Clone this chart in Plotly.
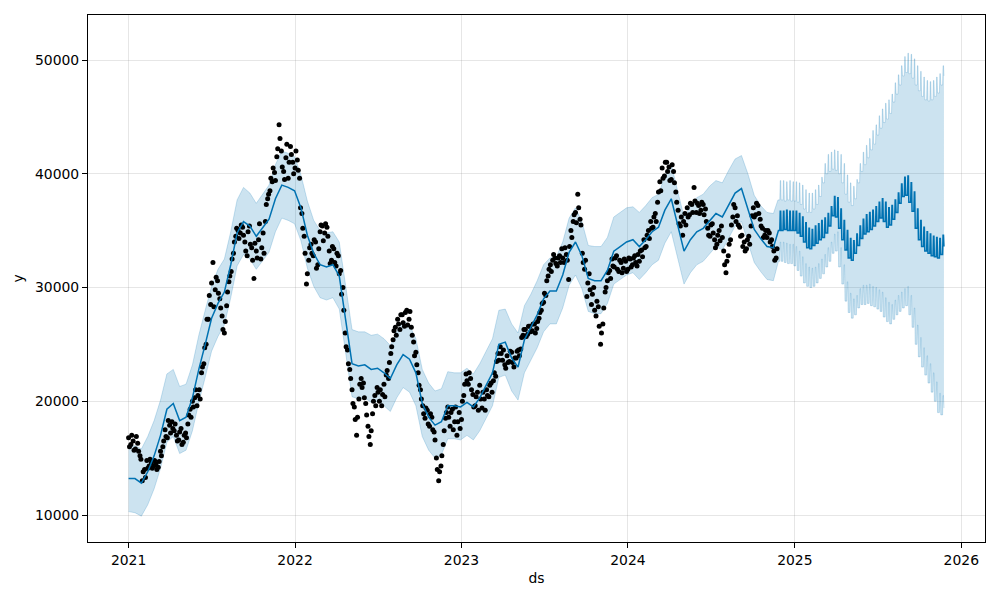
import pandas as pd
import plotly.graph_objects as go

# ---------------- data (values in thousands) ----------------
# observed points, two interleaved samplings (every 5 days, offset by 2 days)
obs_start = "2021-01-01"
obs_start_b = "2021-01-03"
obs_step_days = 5
obs_y = [
    16.8, 16.2, 16.5, 15.8, 16.3, 15.2, 13.0, 14.0, 14.8, 14.3,
    14.6, 14.3, 14.5, 14.2, 15.6, 16.0, 17.5, 16.8, 17.9, 18.2,
    17.4, 17.0, 16.6, 17.6, 16.4, 17.2, 18.0, 19.3, 20.0, 20.3,
    19.6, 21.0, 22.5, 23.3, 25.0, 27.2, 28.5, 32.2, 29.8, 30.6,
    29.0, 27.5, 26.0, 28.4, 30.5, 31.4, 33.0, 34.5, 35.0, 34.8,
    35.3, 34.0, 32.8, 35.4, 33.5, 30.8, 33.2, 34.2, 32.5, 34.8,
    35.8, 37.8, 38.5, 39.3, 40.1, 41.5, 44.3, 42.0, 40.2, 41.4,
    39.6, 42.4, 41.0, 40.5, 41.2, 39.6, 36.5, 34.5, 30.3, 32.4,
    33.8, 32.8, 34.0, 32.0, 34.9, 35.4, 34.8, 35.3, 33.2, 32.4,
    33.4, 31.9, 32.8, 31.5, 30.0, 26.0, 24.5, 22.8, 21.0, 19.5,
    17.0, 20.2, 22.0, 21.6, 19.8, 17.8, 16.2, 18.9, 20.5, 21.2,
    20.0, 19.6, 21.5, 22.3, 22.0, 24.2, 25.4, 26.5, 27.2, 26.3,
    27.6, 26.6, 28.0, 27.2, 26.5, 25.2, 24.3, 22.5, 21.0, 19.6,
    18.5, 19.2, 17.8, 18.6, 17.3, 15.0, 13.0, 14.3, 16.2, 18.5,
    19.5, 17.8, 19.3, 18.2, 17.0, 19.0, 18.4, 20.5, 22.4, 21.5,
    22.0, 20.6, 19.6, 20.8, 21.4, 19.4, 20.2, 21.0, 20.4, 21.6,
    21.8, 22.2, 24.2, 24.8, 23.6, 23.2, 24.0, 23.5, 24.3, 23.0,
    23.8, 24.5, 24.6, 25.8, 26.3, 25.9, 26.6, 26.2, 26.8, 26.4,
    27.3, 28.0, 28.7, 29.3, 31.0, 32.0, 32.4, 32.6, 31.9, 32.8,
    33.4, 32.2, 32.9, 30.7, 35.0, 35.8, 36.6, 38.2, 36.0, 33.0,
    31.6, 29.2, 31.2, 28.5, 30.0, 27.5, 28.3, 25.0, 26.8, 29.6,
    30.6, 31.5, 32.5, 31.8, 32.8, 31.4, 32.2, 31.7, 32.3, 31.6,
    32.5, 32.0, 32.8, 31.9, 32.3, 33.3, 34.2, 33.6, 35.0, 35.8,
    35.3, 36.5, 37.5, 39.3, 40.5, 39.8, 41.0, 40.6, 39.5, 40.2,
    38.4, 36.8, 35.4, 34.6, 36.5, 37.0, 36.4, 37.3, 38.8, 36.6,
    37.2, 36.8, 37.3, 36.9, 35.2, 34.5, 35.6, 34.2, 33.8, 35.0,
    35.4, 33.2, 31.3, 32.8, 34.2, 36.2, 37.0, 36.3, 35.3, 34.6,
    34.0, 33.4, 34.5, 35.4, 37.0, 36.4, 37.2, 36.0, 35.2, 34.6,
    34.4, 34.8, 34.2, 33.2, 32.6,
]
obs_y_b = [
    16.0, 17.0, 15.7, 16.9, 15.6, 14.9, 13.8, 13.3, 14.1, 14.9,
    14.1, 14.8, 14.0, 14.7, 15.2, 16.5, 16.9, 18.3, 17.2, 17.6,
    18.0, 16.5, 17.3, 16.2, 17.0, 16.8, 18.8, 18.6, 19.5, 21.0,
    20.5, 20.2, 23.0, 24.7, 27.2, 29.3, 30.4, 28.3, 30.9, 29.5,
    28.2, 26.3, 27.0, 29.6, 31.0, 32.5, 34.0, 35.2, 34.3, 35.5,
    34.6, 33.2, 34.9, 33.8, 32.4, 33.9, 32.6, 35.6, 33.5, 33.0,
    37.3, 38.2, 39.6, 40.5, 39.4, 42.2, 43.1, 40.6, 39.5, 42.6,
    41.0, 41.7, 40.0, 42.0, 40.3, 37.0, 35.2, 33.0, 31.2, 33.5,
    33.0, 34.2, 31.7, 33.4, 35.5, 34.1, 35.6, 34.5, 32.1, 33.6,
    32.2, 33.0, 31.2, 29.4, 28.0, 24.8, 23.3, 22.0, 19.8, 18.4,
    18.6, 21.5, 21.2, 20.3, 18.8, 16.9, 17.4, 20.0, 19.6, 20.8,
    21.0, 20.6, 20.4, 22.7, 23.4, 24.8, 26.2, 25.8, 26.8, 27.6,
    26.9, 27.8, 26.7, 27.9, 25.8, 24.0, 23.2, 21.4, 20.2, 18.9,
    19.4, 18.0, 18.9, 17.5, 16.6, 14.0, 13.8, 15.2, 17.4, 19.0,
    18.6, 19.0, 17.5, 19.5, 18.2, 17.6, 20.0, 21.5, 21.8, 22.5,
    21.0, 19.5, 20.4, 19.2, 20.2, 20.8, 19.2, 20.5, 21.4, 20.8,
    22.5, 23.5, 23.6, 24.2, 24.5, 22.9, 23.4, 24.4, 23.4, 23.8,
    24.4, 24.0, 25.6, 26.3, 25.7, 26.6, 26.1, 26.8, 26.0, 27.0,
    27.8, 28.6, 29.5, 30.6, 31.6, 31.4, 32.9, 32.1, 32.6, 32.2,
    32.6, 33.5, 32.4, 33.6, 34.4, 36.4, 35.7, 37.0, 35.5, 32.2,
    32.4, 30.4, 29.8, 29.4, 28.0, 28.8, 26.6, 26.0, 28.2, 30.0,
    31.3, 30.8, 31.9, 32.6, 31.6, 32.4, 31.3, 32.5, 31.4, 32.6,
    31.8, 32.6, 32.2, 32.9, 33.2, 32.7, 33.5, 34.6, 34.3, 35.2,
    36.2, 35.8, 38.4, 38.5, 39.6, 41.0, 40.2, 39.4, 40.8, 39.2,
    37.5, 35.6, 36.2, 35.8, 35.5, 36.2, 37.4, 36.6, 37.6, 37.4,
    36.5, 37.5, 36.4, 35.8, 34.6, 35.5, 34.8, 33.5, 34.6, 34.1,
    34.4, 32.0, 32.3, 33.8, 35.5, 37.3, 35.8, 35.5, 34.5, 33.6,
    33.2, 34.2, 33.8, 36.3, 36.2, 37.4, 36.5, 35.4, 34.4, 35.0,
    35.0, 34.0, 33.6, 32.4, 33.4,
]

hist_start = "2021-01-01"
hist_step_days = 14
hist_yhat = [
    13.2, 13.2, 12.8, 13.8, 15.2, 17.0, 19.3, 19.8, 18.3, 18.6,
    20.3, 22.8, 25.0, 27.3, 28.6, 29.6, 32.0, 34.8, 35.8, 35.4,
    34.5, 35.2, 36.0, 37.8, 39.0, 38.8, 38.5, 37.0, 34.6, 33.0,
    32.0, 31.8, 32.0, 31.0, 27.0, 23.3, 23.1, 23.2, 22.8, 22.9,
    22.5, 22.0, 23.2, 24.1, 23.7, 22.5, 19.8, 18.6, 17.9, 18.2,
    19.6, 19.6, 19.5, 19.9, 19.5, 20.3, 21.4, 22.5, 25.0, 25.2,
    23.8, 23.0, 25.4, 26.5, 27.6, 29.0, 29.7, 29.7, 31.1, 33.1,
    34.0, 32.8, 30.8, 30.6, 30.6, 31.5, 33.2, 33.6, 34.0, 34.2,
    33.6, 34.2, 34.9, 35.3, 36.8, 37.8, 35.5, 33.2, 34.2, 34.9,
    35.2, 35.9, 36.5, 36.2, 37.3, 38.3, 38.7, 37.0, 35.1, 34.3,
    33.6, 33.5,
]
hist_upper = [
    16.0, 16.1, 15.8, 16.9, 18.3, 20.1, 22.4, 22.8, 21.3, 21.5,
    23.2, 25.8, 28.0, 30.1, 31.6, 32.5, 34.9, 37.7, 38.8, 38.3,
    37.4, 38.2, 39.0, 40.8, 42.0, 41.8, 41.5, 39.9, 37.6, 35.9,
    35.0, 34.8, 34.9, 34.0, 30.0, 26.3, 26.1, 26.1, 25.8, 25.9,
    25.5, 24.9, 26.1, 27.1, 26.7, 25.5, 22.8, 21.6, 20.9, 21.1,
    22.6, 22.5, 22.5, 22.9, 22.4, 23.3, 24.4, 25.5, 28.0, 28.1,
    26.8, 26.0, 28.4, 29.4, 30.6, 32.0, 32.6, 32.7, 34.0, 36.1,
    37.0, 35.8, 33.7, 33.6, 33.6, 34.4, 36.2, 36.6, 37.0, 37.1,
    36.6, 37.2, 37.9, 38.2, 39.8, 40.8, 38.5, 36.2, 37.1, 37.9,
    38.2, 38.9, 39.4, 39.2, 40.3, 41.3, 41.6, 40.0, 38.1, 37.2,
    36.6, 36.5,
]
hist_lower = [
    10.3, 10.2, 9.9, 10.9, 12.3, 14.1, 16.4, 16.9, 15.4, 15.7,
    17.4, 19.9, 22.1, 24.4, 25.7, 26.7, 29.1, 31.9, 32.9, 32.5,
    31.6, 32.3, 33.1, 34.9, 36.1, 35.9, 35.6, 34.1, 31.7, 30.1,
    29.1, 28.9, 29.1, 28.1, 24.1, 20.4, 20.2, 20.3, 19.9, 20.0,
    19.6, 19.1, 20.3, 21.2, 20.8, 19.6, 16.9, 15.7, 15.0, 15.3,
    16.7, 16.7, 16.6, 17.0, 16.6, 17.4, 18.5, 19.6, 22.1, 22.3,
    20.9, 20.1, 22.5, 23.6, 24.7, 26.1, 26.8, 26.8, 28.2, 30.2,
    31.1, 29.9, 27.9, 27.7, 27.7, 28.6, 30.3, 30.7, 31.1, 31.3,
    30.7, 31.3, 32.0, 32.4, 33.9, 34.9, 32.6, 30.3, 31.3, 32.0,
    32.3, 33.0, 33.6, 33.3, 34.4, 35.4, 35.8, 34.1, 32.2, 31.4,
    30.7, 30.6,
]

# forecast: weekday level per week (week starts Monday) + weekly effect
fc_start = "2024-11-25"
fc_days = 365
fc_yhat_week = [
    35.0, 35.0, 35.1, 35.0, 35.0, 35.0, 34.8, 34.5, 34.0, 33.5,
    33.4, 33.7, 33.9, 34.2, 34.4, 34.8, 35.4, 36.3, 36.2, 35.2,
    34.2, 33.3, 32.6, 32.4, 33.0, 33.7, 34.3, 34.7, 34.9, 35.1,
    35.4, 35.8, 36.1, 35.8, 35.3, 35.5, 36.0, 36.6, 37.4, 38.0,
    38.1, 37.5, 36.7, 35.2, 34.2, 33.6, 33.2, 33.0, 32.8, 32.7,
    32.6, 32.9, 33.6,
]
fc_upper_week = [
    37.7, 37.7, 37.6, 37.7, 37.6, 37.6, 37.5, 37.3, 36.9, 36.6,
    36.6, 36.9, 37.3, 38.0, 39.2, 40.0, 40.2, 40.4, 40.3, 40.0,
    39.2, 38.2, 37.5, 37.2, 37.8, 39.2, 40.2, 40.8, 41.4, 42.1,
    42.6, 43.4, 44.0, 44.5, 44.8, 45.3, 46.3, 47.0, 47.8, 48.6,
    48.9, 48.8, 48.4, 47.8, 47.3, 46.8, 46.5, 46.4, 46.5, 46.8,
    47.1, 47.8, 48.6,
]
fc_lower_week = [
    32.3, 32.3, 32.2, 32.1, 32.1, 31.9, 31.5, 31.0, 30.4, 30.1,
    30.0, 30.1, 30.4, 30.8, 31.2, 31.8, 32.3, 33.0, 33.2, 31.8,
    30.3, 28.8, 27.8, 27.3, 27.6, 28.2, 28.5, 28.5, 28.6, 28.4,
    28.3, 28.1, 27.9, 27.4, 27.0, 26.8, 27.2, 27.6, 27.9, 28.2,
    28.4, 27.6, 26.5, 25.0, 23.9, 23.0, 22.3, 21.6, 20.8, 20.0,
    19.0, 18.8, 19.4,
]
weekly_effect = [0.0, 0.0, 0.0, 0.0, 0.0, 1.7, 1.7]  # Mon..Sun

year_ticks = [2021, 2022, 2023, 2024, 2025, 2026]
y_ticks = [10000, 20000, 30000, 40000, 50000]

# ---------------- build series ----------------
K = 1000.0
obs_dates = list(pd.date_range(obs_start, periods=len(obs_y), freq=f"{obs_step_days}D"))
obs_dates_b = list(pd.date_range(obs_start_b, periods=len(obs_y_b), freq=f"{obs_step_days}D"))
hist_dates = pd.date_range(hist_start, periods=len(hist_yhat), freq=f"{hist_step_days}D")
fc_dates = pd.date_range(fc_start, periods=fc_days, freq="D")


def daily(week_vals):
    return [week_vals[i // 7] + weekly_effect[d.dayofweek] for i, d in enumerate(fc_dates)]


all_dates = list(hist_dates) + list(fc_dates)
yhat_all = [v * K for v in hist_yhat + daily(fc_yhat_week)]
upper_all = [v * K for v in hist_upper + daily(fc_upper_week)]
lower_all = [v * K for v in hist_lower + daily(fc_lower_week)]

band = "rgba(0,114,178,0.2)"
fig = go.Figure()
fig.add_trace(go.Scatter(x=all_dates, y=lower_all, mode="lines",
                         line=dict(color=band, width=1), showlegend=False, hoverinfo="skip"))
fig.add_trace(go.Scatter(x=all_dates, y=upper_all, mode="lines", fill="tonexty",
                         fillcolor=band, line=dict(color=band, width=1),
                         showlegend=False, hoverinfo="skip"))
fig.add_trace(go.Scatter(x=obs_dates + obs_dates_b,
                         y=[v * K for v in obs_y + obs_y_b], mode="markers",
                         marker=dict(color="black", size=5), showlegend=False))
fig.add_trace(go.Scatter(x=all_dates, y=yhat_all, mode="lines",
                         line=dict(color="#0072B2", width=1.5), showlegend=False))

font = dict(family="DejaVu Sans", size=13.9, color="black")
axis_common = dict(showline=True, mirror=True, linecolor="black", linewidth=1,
                   ticks="outside", ticklen=5, tickwidth=1, tickcolor="black",
                   showgrid=True, gridcolor="rgba(128,128,128,0.2)", gridwidth=1,
                   zeroline=False, tickfont=font)

fig.update_layout(
    width=1000, height=600,
    margin=dict(l=88, r=15, t=15, b=58),
    paper_bgcolor="white", plot_bgcolor="white",
    font=font,
    xaxis=dict(type="date", range=["2020-10-04", "2026-02-22"],
               tickvals=[f"{y}-01-01" for y in year_ticks],
               ticktext=[str(y) for y in year_ticks],
               title=dict(text="ds", font=font, standoff=6), **axis_common),
    yaxis=dict(range=[7626, 53956], tickvals=y_ticks,
               ticktext=[str(v) for v in y_ticks],
               title=dict(text="y", font=font, standoff=8), **axis_common),
)

fig.write_html("out.html")
